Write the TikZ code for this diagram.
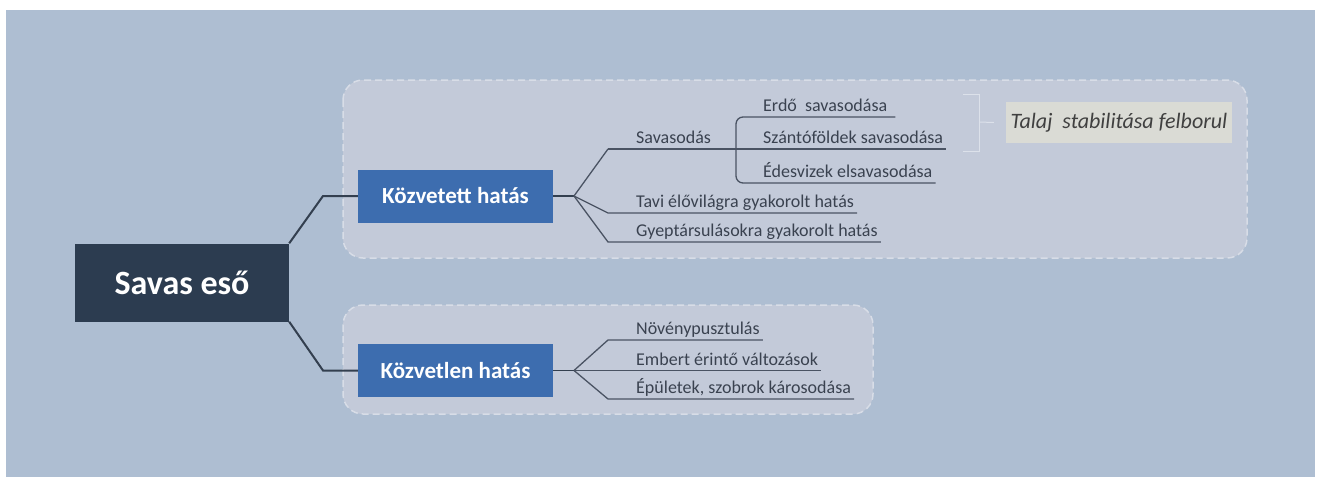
\documentclass[tikz,border=0pt]{standalone}
\usepackage{fontspec}
\setmainfont{Carlito}
\usetikzlibrary{positioning}

\definecolor{bgcol}{HTML}{AEBED2}
\definecolor{regioncol}{HTML}{C3CAD9}
\definecolor{regionedge}{HTML}{D8DDE7}
\definecolor{rootcol}{HTML}{2C3C50}
\definecolor{maincol}{HTML}{3D6DAF}
\definecolor{linkcol}{HTML}{333F4F}
\definecolor{leafcol}{HTML}{3A4250}
\definecolor{undercol}{HTML}{4A5363}
\definecolor{notecol}{HTML}{DADBD5}
\definecolor{bracecol}{HTML}{DCE1EA}

\tikzset{
  rootbox/.style={fill=rootcol, text=white, inner sep=0pt,
    minimum width=214pt, minimum height=78pt,
    font=\bfseries\fontsize{34}{38}\selectfont},
  mainbox/.style={fill=maincol, text=white, inner sep=0pt,
    minimum width=195pt, minimum height=53pt,
    font=\bfseries\fontsize{23}{26}\selectfont},
  leaf/.style={text=leafcol, anchor=south west, inner xsep=0pt, inner ysep=5pt,
    text depth=0pt, font=\fontsize{18}{20}\selectfont},
  region/.style={fill=regioncol, draw=regionedge, dashed, line width=1.5pt,
    dash pattern=on 7pt off 4pt, rounded corners=20pt},
  link/.style={draw=linkcol, line width=2pt},
  underline/.style={draw=undercol, line width=1.3pt},
  notebox/.style={fill=notecol, text=black!75, inner sep=0pt,
    minimum width=226pt, minimum height=41pt,
    font=\itshape\fontsize{22}{24}\selectfont},
}

\begin{document}
\begin{tikzpicture}[x=1pt, y=-1pt]
  \useasboundingbox (0,0) rectangle (1320,477);
  % background
  \fill[bgcol] (6,10) rectangle (1315,477);

  % Draw the two groups
  \draw[region] (343,80) rectangle (1247,258);
  \draw[region] (343,305) rectangle (873,414);

  % Main topics
  \node[rootbox] (root) at (182,282.5) {Savas eső};
  \node[mainbox] (kvt) at (455.5,196) {Közvetett hatás};
  \node[mainbox] (kvl) at (455.5,370.5) {Közvetlen hatás};

  \draw[link] (root.north east) -- (323,196) -- (kvt.west);
  \draw[link] (root.south east) -- (323,370.5) -- (kvl.west);

  % Forks
  \coordinate (kvtfork) at (574,196);
  \coordinate (kvlfork) at (574,370.5);
  \draw[link, line width=1.5pt] (kvt.east) -- (kvtfork);
  \draw[link, line width=1.5pt] (kvl.east) -- (kvlfork);

  % Közvetett hatás leaves
  \node[leaf] (sav) at (636,149) {Savasodás};
  \node[leaf] (tavi) at (636,213) {Tavi élővilágra gyakorolt hatás};
  \node[leaf] (gyep) at (636,242) {Gyeptársulásokra gyakorolt hatás};
  \coordinate (savstart) at (608,149);
  \coordinate (tavistart) at (608,213);
  \coordinate (gyepstart) at (608,242);

  \draw[underline] (kvtfork) -- (savstart);
  \draw[underline] (kvtfork) -- (tavistart) -- ([xshift=3pt]tavi.south east);
  \draw[underline] (kvtfork) -- (gyepstart) -- ([xshift=3pt]gyep.south east);

  % Savasodás children
  \node[leaf] (erdo) at (763,117) {Erdő\ \ savasodása};
  \node[leaf] (szanto) at (763,149) {Szántóföldek savasodása};
  \node[leaf] (edes) at (763,183) {Édesvizek elsavasodása};

  \draw[underline] (savstart) -- ([xshift=3pt]szanto.south east);
  \draw[underline, line width=2.2pt] ([xshift=8pt]sav.south east) -- (736,149);
  \draw[underline, rounded corners=7pt] ([xshift=8pt]erdo.south east) -- (736,117)
    -- (736,183) -- ([xshift=3pt]edes.south east);

  % Bracket and note
  \coordinate (brtop) at (963,94);
  \coordinate (brbot) at (963,151);
  \coordinate (brmid) at (979,122);
  \node[notebox] (talaj) at (1119,122.5) {Talaj\ \ stabilitása felborul};
  \draw[bracecol, line width=1pt] (brtop) -- (979,94) -- (979,151) -- (brbot);
  \draw[bracecol, line width=1pt] (brmid) -- ([xshift=-12pt]talaj.west);

  % Közvetlen hatás leaves
  \node[leaf] (noveny) at (636,340) {Növénypusztulás};
  \node[leaf] (embert) at (636,370.5) {Embert érintő változások};
  \node[leaf] (epulet) at (636,399) {Épületek, szobrok károsodása};
  \coordinate (novstart) at (608,340);
  \coordinate (epstart) at (608,399);

  \draw[underline] (kvlfork) -- (novstart) -- ([xshift=3pt]noveny.south east);
  \draw[underline] (kvlfork) -- ([xshift=3pt]embert.south east);
  \draw[underline] (kvlfork) -- (epstart) -- ([xshift=3pt]epulet.south east);

\end{tikzpicture}
\end{document}
